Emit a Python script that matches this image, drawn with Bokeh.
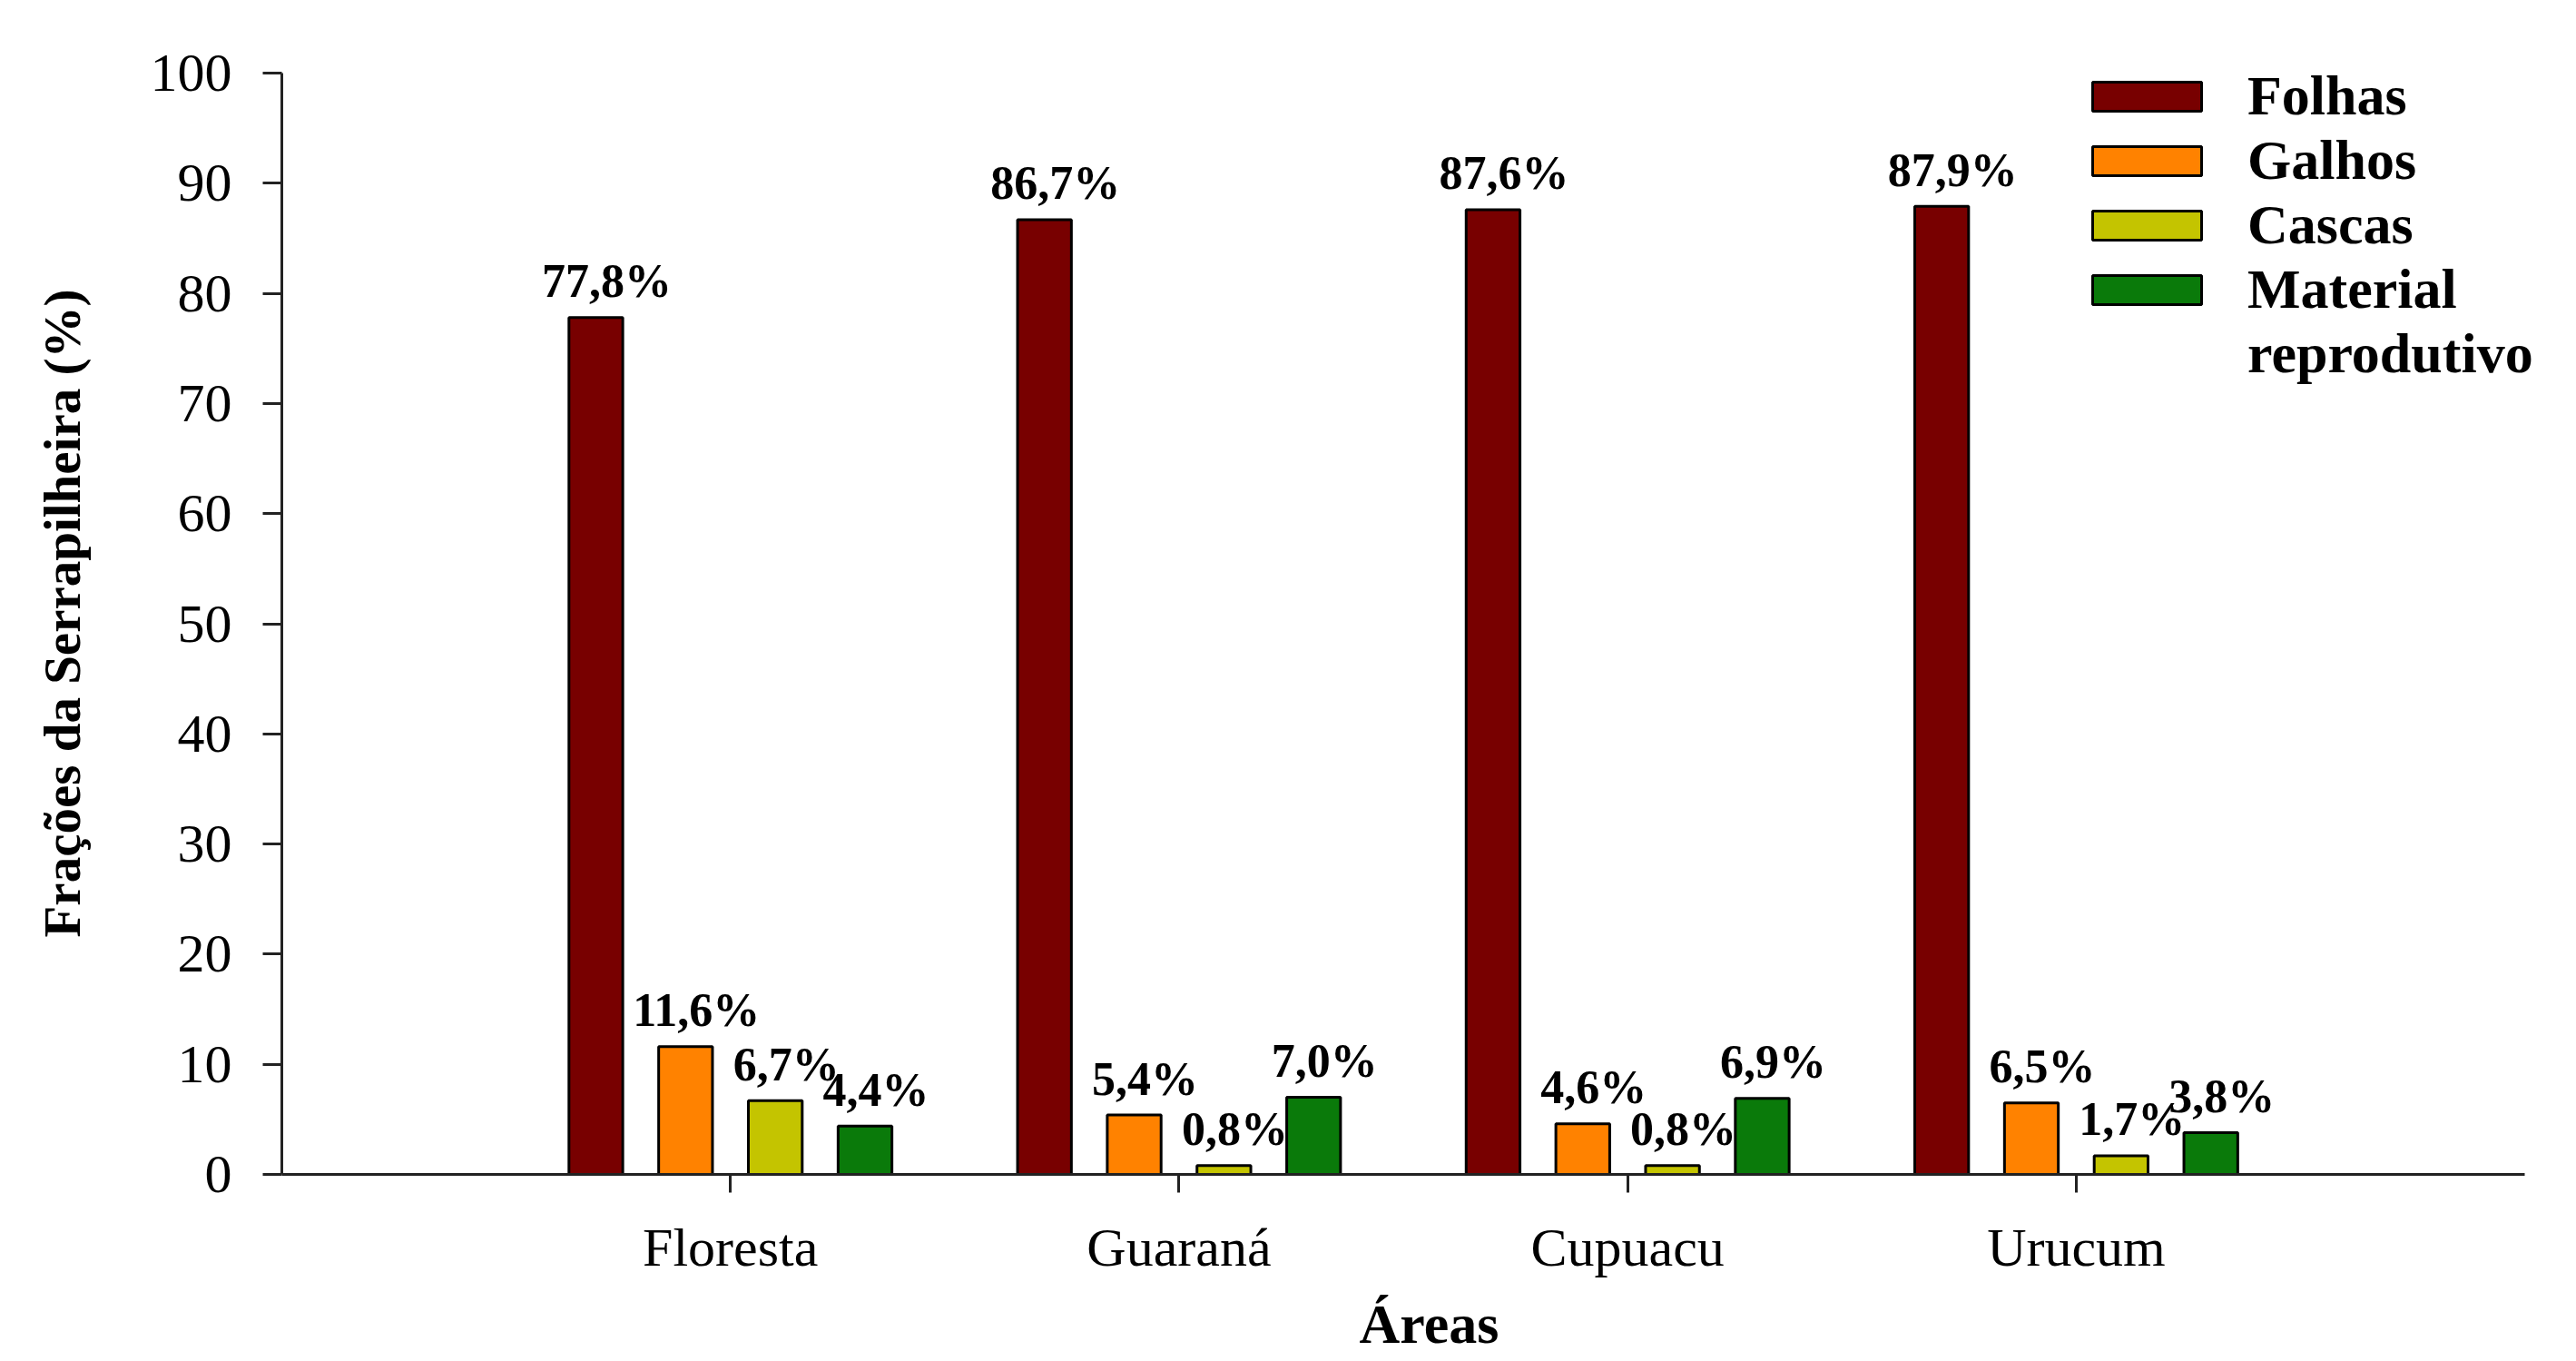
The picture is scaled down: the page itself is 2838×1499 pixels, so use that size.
from bokeh.plotting import figure
from bokeh.models import Range1d, FixedTicker, Legend, LegendItem, ColumnDataSource
from bokeh.core.properties import value
from bokeh.embed import file_html
from bokeh.resources import INLINE

# ---- data ----
areas = ["Floresta", "Guaraná", "Cupuacu", "Urucum"]
series_names = ["Folhas", "Galhos", "Cascas", "Material"]
folhas = [77.8, 86.7, 87.6, 87.9]
galhos = [11.6, 5.4, 4.6, 6.5]
cascas = [6.7, 0.8, 0.8, 1.7]
material = [4.4, 7.0, 6.9, 3.8]
y_ticks = [0, 10, 20, 30, 40, 50, 60, 70, 80, 90, 100]

# ---- style ----
colors = ["#780000", "#FF8200", "#C4C400", "#0A7A0A"]
offsets = [-0.3, -0.1, 0.1, 0.3]
bar_w = 0.12
SERIF = "Liberation Serif"

p = figure(width=2838, height=1499, output_backend="svg", toolbar_location=None,
           x_range=Range1d(0, 5.115), y_range=Range1d(0, 106.6),
           min_border_left=310, min_border_right=0, min_border_top=0, min_border_bottom=206)
p.outline_line_color = None
p.xgrid.visible = False
p.ygrid.visible = False
p.background_fill_color = "white"

cat_pos = [i + 1 for i in range(len(areas))]
renderers = []
for s, (vals, col, off) in enumerate(zip([folhas, galhos, cascas, material], colors, offsets)):
    xs = [c + off for c in cat_pos]
    src = ColumnDataSource(dict(x=xs, top=vals,
                                lab=[f"{v:.1f}".replace(".", ",") + "%" for v in vals]))
    r = p.vbar(x="x", top="top", bottom=0, width=bar_w, source=src,
               fill_color=col, line_color="black", line_width=3)
    renderers.append(r)
    p.text(x="x", y="top", text="lab", source=src, text_font=value(SERIF),
           text_font_style="bold", text_font_size="52px", text_color="black",
           text_align="center", text_baseline="alphabetic", x_offset=12, y_offset=-40)

# invisible renderer to carry the second legend line
dummy = p.vbar(x=[-10], top=[0], width=0.1, fill_alpha=0, line_alpha=0)

# axes
p.xaxis.ticker = FixedTicker(ticks=cat_pos)
p.xaxis.major_label_overrides = {c: a for c, a in zip(cat_pos, areas)}
p.xaxis.bounds = (0, 5)
p.yaxis.ticker = FixedTicker(ticks=y_ticks)
p.yaxis.bounds = (0, 100)
for ax in (p.xaxis[0], p.yaxis[0]):
    ax.axis_line_width = 3
    ax.axis_line_color = "#222222"
    ax.major_tick_line_width = 3
    ax.major_tick_line_color = "#222222"
    ax.major_tick_in = 0
    ax.minor_tick_line_color = None
    ax.major_label_text_font = SERIF
    ax.major_label_text_font_size = "60px"
    ax.major_label_text_color = "black"
p.yaxis.major_tick_out = 21
p.yaxis.major_label_standoff = 34
p.xaxis.major_tick_out = 20
p.xaxis.major_label_standoff = 27

p.yaxis.axis_label = "Frações da Serrapilheira (%)" + "\u00a0" * 4
p.yaxis.axis_label_text_font = SERIF
p.yaxis.axis_label_text_font_style = "bold"
p.yaxis.axis_label_text_font_size = "57px"
p.yaxis.axis_label_text_color = "black"
p.yaxis.axis_label_standoff = 63

p.xaxis.axis_label = "Áreas"
p.xaxis.axis_label_text_font = SERIF
p.xaxis.axis_label_text_font_style = "bold"
p.xaxis.axis_label_text_font_size = "62px"
p.xaxis.axis_label_text_color = "black"
p.xaxis.axis_label_standoff = 14

items = [LegendItem(label=n, renderers=[r]) for n, r in zip(series_names, renderers)]
items.append(LegendItem(label="reprodutivo", renderers=[dummy]))
legend = Legend(items=items, location=(1980, 868), padding=0, margin=0, spacing=0,
                glyph_width=150, glyph_height=40, label_standoff=36,
                label_text_font=SERIF, label_text_font_style="bold",
                label_text_font_size="62px", label_text_color="black",
                border_line_color=None, background_fill_alpha=0)
p.add_layout(legend, "center")

open("out.html", "w").write(file_html(p, INLINE))
